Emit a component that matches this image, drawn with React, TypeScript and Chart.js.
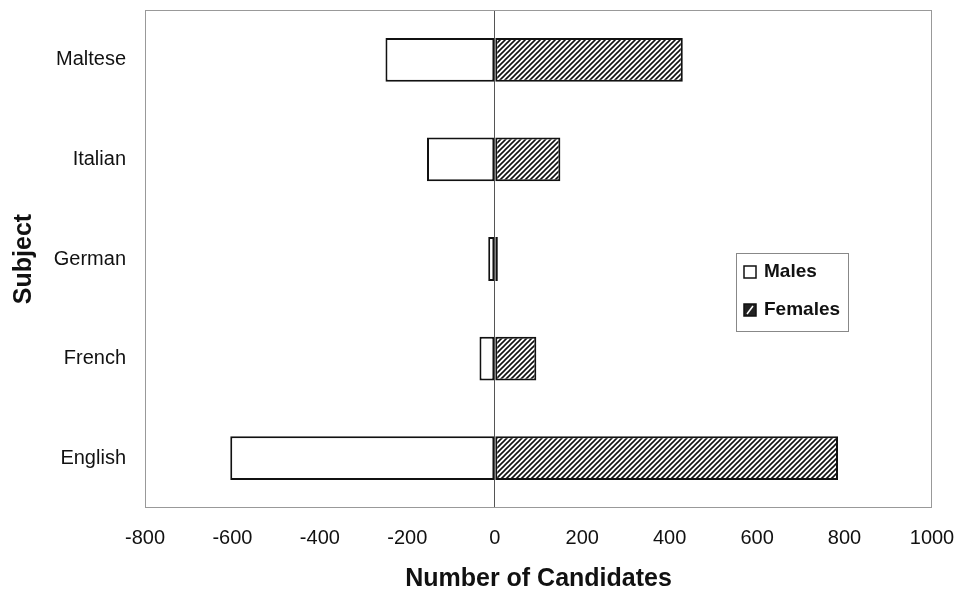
import { useEffect, useRef } from 'react';
import { Chart, registerables } from 'chart.js';

Chart.register(...registerables);

const subjects = ['Maltese', 'Italian', 'German', 'French', 'English'];
const males = [-250, -155, -15, -35, -605];
const females = [430, 150, 7, 95, 785];
const xMin = -800;
const xMax = 1000;
const xStep = 200;
const seriesNames = ['Males', 'Females'];
const xTitle = 'Number of Candidates';
const yTitle = 'Subject';

const FONT = "'Liberation Sans', Arial, sans-serif";

function makeHatch(): CanvasPattern | string {
  const size = 5;
  const c = document.createElement('canvas');
  c.width = size;
  c.height = size;
  const g = c.getContext('2d');
  if (!g) return '#777';
  g.fillStyle = '#ffffff';
  g.fillRect(0, 0, size, size);
  g.strokeStyle = '#111111';
  g.lineWidth = 1.6;
  g.beginPath();
  g.moveTo(-1, size + 1);
  g.lineTo(size + 1, -1);
  g.moveTo(-1, 1);
  g.lineTo(1, -1);
  g.moveTo(size - 1, size + 1);
  g.lineTo(size + 1, size - 1);
  g.stroke();
  const p = g.createPattern(c, 'repeat');
  return p || '#777';
}

const framePlugin = {
  id: 'frame',
  afterDraw(chart: any) {
    const { ctx, chartArea } = chart;
    ctx.save();
    ctx.strokeStyle = '#999999';
    ctx.lineWidth = 1;
    ctx.strokeRect(chartArea.left + 0.5, chartArea.top + 0.5, chartArea.right - chartArea.left - 1, chartArea.bottom - chartArea.top - 1);
    ctx.restore();
  },
};

const legendPlugin = {
  id: 'boxLegend',
  afterDraw(chart: any) {
    const { ctx, chartArea } = chart;
    const x = chartArea.right - 196;
    const y = chartArea.top + 243;
    const w = 112;
    const h = 78;
    ctx.save();
    ctx.fillStyle = '#ffffff';
    ctx.fillRect(x, y, w, h);
    ctx.strokeStyle = '#888888';
    ctx.lineWidth = 1;
    ctx.strokeRect(x + 0.5, y + 0.5, w, h);
    chart.data.datasets.forEach((ds: any, i: number) => {
      const cy = y + 19 + i * 38;
      const sx = x + 8;
      ctx.fillStyle = i === 0 ? '#ffffff' : '#222222';
      ctx.fillRect(sx, cy - 6, 12, 12);
      ctx.strokeStyle = '#111111';
      ctx.lineWidth = 1.5;
      ctx.strokeRect(sx, cy - 6, 12, 12);
      if (i === 1) {
        ctx.strokeStyle = '#ffffff';
        ctx.lineWidth = 1.5;
        ctx.beginPath();
        ctx.moveTo(sx + 3, cy + 4);
        ctx.lineTo(sx + 9, cy - 4);
        ctx.stroke();
      }
      ctx.fillStyle = '#111111';
      ctx.font = `bold 19px ${FONT}`;
      ctx.textBaseline = 'middle';
      ctx.textAlign = 'left';
      ctx.fillText(ds.label, sx + 20, cy);
    });
    ctx.restore();
  },
};

export default function App() {
  const ref = useRef<HTMLCanvasElement | null>(null);

  useEffect(() => {
    if (!ref.current) return;
    const hatch = makeHatch();
    const zeroPad = (s: any) => {
      s.paddingTop = 0;
      s.paddingBottom = 0;
      s.paddingLeft = 0;
      s.paddingRight = 0;
    };
    const chart = new Chart(ref.current, {
      type: 'bar',
      data: {
        labels: subjects,
        datasets: [
          {
            label: seriesNames[0],
            data: males,
            backgroundColor: '#ffffff',
            borderColor: '#111111',
            borderWidth: 2,
            borderSkipped: false,
            barPercentage: 0.44,
            categoryPercentage: 1,
          },
          {
            label: seriesNames[1],
            data: females,
            backgroundColor: hatch as any,
            borderColor: '#111111',
            borderWidth: 2,
            borderSkipped: false,
            barPercentage: 0.44,
            categoryPercentage: 1,
          },
        ],
      },
      options: {
        indexAxis: 'y',
        responsive: false,
        animation: false,
        devicePixelRatio: 1,
        layout: { padding: { top: 10, right: 29, bottom: 0, left: 0 } },
        plugins: {
          legend: { display: false },
          tooltip: { enabled: false },
        },
        scales: {
          x: {
            stacked: true,
            min: xMin,
            max: xMax,
            ticks: {
              stepSize: xStep,
              color: '#111111',
              font: { family: FONT, size: 20 },
              padding: 18,
              maxRotation: 0,
              autoSkip: false,
              callback: (v: any) => String(v),
            },
            grid: {
              drawTicks: false,
              color: (c: any) => (c.tick && c.tick.value === 0 ? '#555555' : 'rgba(0,0,0,0)'),
              lineWidth: 1,
            },
            border: { display: false },
            title: {
              display: true,
              text: xTitle,
              color: '#111111',
              font: { family: FONT, size: 25, weight: 'bold' },
              padding: { top: 0, bottom: 3 },
            },
            afterFit: (s: any) => {
              s.height = 89;
              zeroPad(s);
            },
          },
          y: {
            stacked: true,
            ticks: {
              color: '#111111',
              font: { family: FONT, size: 20 },
              padding: 19,
            },
            grid: { display: false, drawTicks: false },
            border: { display: false },
            title: {
              display: true,
              text: yTitle,
              color: '#111111',
              font: { family: FONT, size: 25, weight: 'bold' },
              padding: { top: 9, bottom: 0 },
            },
            afterFit: (s: any) => {
              s.width = 145;
              zeroPad(s);
            },
          },
        },
      },
      plugins: [framePlugin, legendPlugin],
    });
    return () => chart.destroy();
  }, []);

  return (
    <div style={{ position: 'fixed', left: 0, top: 0, width: 961, height: 597, background: '#ffffff' }}>
      <canvas ref={ref} width={961} height={597} style={{ width: 961, height: 597 }} />
    </div>
  );
}
